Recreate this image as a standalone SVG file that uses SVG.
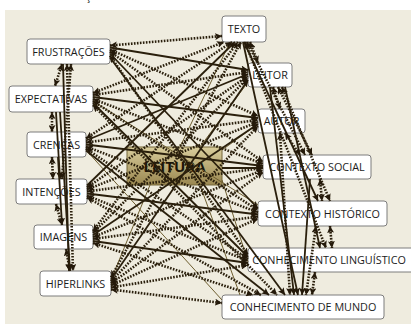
<svg xmlns="http://www.w3.org/2000/svg" width="411" height="324" viewBox="0 0 411 324">
<defs>
<marker id="a" markerUnits="userSpaceOnUse" markerWidth="8" markerHeight="7" refX="7" refY="3.5" orient="auto-start-reverse">
<path d="M0,0 L7,3.5 L0,7 L1.5,3.5 z" fill="#24190a" stroke="none"/>
</marker>
<linearGradient id="g" x1="0" y1="0" x2="0" y2="1">
<stop offset="0" stop-color="#d9cd9c"/>
<stop offset="1" stop-color="#9a8750"/>
</linearGradient>
<style>
.box{fill:#fff;stroke:#7d7d7d;stroke-width:1}
.lbl{font-family:"Open Sans","Noto Sans",sans-serif;font-size:10.8px;fill:#1c1c1c;text-anchor:middle}
.d{fill:none;stroke:#2a1f0c;stroke-width:2.6;stroke-dasharray:1.6 1.4;marker-start:url(#a);marker-end:url(#a)}
.s{fill:none;stroke:#2a1f0c;stroke-width:1.8;marker-end:url(#a)}
.t{fill:none;stroke:#6e5e30;stroke-width:1}
</style>
</defs>
<rect x="0" y="0" width="411" height="324" fill="#ffffff"/>
<rect x="5" y="10" width="406" height="314" fill="#efecdf"/>
<text x="88" y="0" class="lbl">ç</text>

<g id="nodes">
<g id="leitura"><rect x="127" y="147" width="95" height="38" fill="url(#g)" stroke="#75663a" stroke-width="1"/><text x="174.5" y="171.5" style="font-family:'Open Sans','Noto Sans',sans-serif;font-size:15px;font-weight:bold;fill:#1a1408;text-anchor:middle">LEITURA</text></g>
<g id="texto"><rect class="box" x="222" y="16" width="44" height="26" rx="3"/><text class="lbl" x="244" y="33">TEXTO</text></g>
<g id="leitor"><rect class="box" x="248" y="63" width="44" height="24" rx="3"/><text class="lbl" x="270" y="79">LEITOR</text></g>
<g id="autor"><rect class="box" x="258" y="109" width="47" height="24" rx="3"/><text class="lbl" x="281.5" y="125">AUTOR</text></g>
<g id="contexto-social"><rect class="box" x="263" y="155" width="108" height="24" rx="3"/><text class="lbl" x="317" y="171">CONTEXTO SOCIAL</text></g>
<g id="contexto-historico"><rect class="box" x="258" y="201" width="129" height="25" rx="3"/><text class="lbl" x="322.5" y="217.5">CONTEXTO HISTÓRICO</text></g>
<g id="conhecimento-linguistico"><rect class="box" x="248" y="248" width="168" height="24" rx="3"/><text class="lbl" x="329" y="264">CONHECIMENTO LINGUÍSTICO</text></g>
<g id="conhecimento-mundo"><rect class="box" x="222" y="295" width="162" height="24" rx="3"/><text class="lbl" x="303" y="311">CONHECIMENTO DE MUNDO</text></g>
<g id="frustracoes"><rect class="box" x="27" y="39" width="83" height="25" rx="3"/><text class="lbl" x="68.5" y="55.5">FRUSTRAÇÕES</text></g>
<g id="expectativas"><rect class="box" x="9" y="86" width="84" height="26" rx="3"/><text class="lbl" x="51" y="103">EXPECTATIVAS</text></g>
<g id="crencas"><rect class="box" x="27" y="132" width="59" height="25" rx="3"/><text class="lbl" x="56.5" y="148.5">CRENÇAS</text></g>
<g id="intencoes"><rect class="box" x="16" y="179" width="71" height="25" rx="3"/><text class="lbl" x="51.5" y="195.5">INTENÇÕES</text></g>
<g id="imagens"><rect class="box" x="34" y="225" width="59" height="24" rx="3"/><text class="lbl" x="63.5" y="241">IMAGENS</text></g>
<g id="hiperlinks"><rect class="box" x="40" y="271" width="71" height="25" rx="3"/><text class="lbl" x="75.5" y="287.5">HIPERLINKS</text></g>
</g>

<g id="connectors">
<path class="t" d="M222,180 L248,262 M200,185 L240,295 M222,150 L258,124 M200,147 L248,82 M150,185 L111,280 M180,147 L230,42 M93,101 L258,205 M86,150 L222,300"/>
<path class="d" d="M110,45.5 L222,36"/>
<path class="s" d="M110,47.5 L248,70"/>
<path class="d" d="M110,49.5 L258,116"/>
<path class="d" d="M110,51.5 L263,162"/>
<path class="s" d="M110,53.5 L258,208.5"/>
<path class="d" d="M110,55.5 L248,255"/>
<path class="s" d="M110,57.5 L285,295"/>
<path class="d" d="M93,93 L224,42"/>
<path class="d" d="M93,95 L248,72"/>
<path class="s" d="M93,97 L258,118"/>
<path class="d" d="M93,99 L263,164"/>
<path class="d" d="M93,101 L258,210.5"/>
<path class="s" d="M93,103 L248,257"/>
<path class="d" d="M93,105 L277,295"/>
<path class="d" d="M86,138.5 L232,42"/>
<path class="s" d="M86,140.5 L248,74"/>
<path class="d" d="M86,142.5 L258,120"/>
<path class="s" d="M86,144.5 L263,166"/>
<path class="d" d="M86,146.5 L258,212.5"/>
<path class="d" d="M86,148.5 L248,259"/>
<path class="s" d="M86,150.5 L269,295"/>
<path class="s" d="M87,185.5 L235,42"/>
<path class="d" d="M87,187.5 L248,76"/>
<path class="d" d="M87,189.5 L258,122"/>
<path class="d" d="M87,191.5 L263,168"/>
<path class="s" d="M87,193.5 L258,214.5"/>
<path class="d" d="M87,195.5 L248,261"/>
<path class="d" d="M87,197.5 L261,295"/>
<path class="d" d="M93,231 L238,42"/>
<path class="d" d="M93,233 L248,78"/>
<path class="s" d="M93,235 L258,124"/>
<path class="d" d="M93,237 L263,170"/>
<path class="d" d="M93,239 L258,216.5"/>
<path class="s" d="M93,241 L248,263"/>
<path class="d" d="M93,243 L253,295"/>
<path class="d" d="M111,277.5 L241,42"/>
<path class="s" d="M111,279.5 L248,80"/>
<path class="d" d="M111,281.5 L258,126"/>
<path class="d" d="M111,283.5 L263,172"/>
<path class="d" d="M111,285.5 L258,218.5"/>
<path class="d" d="M111,287.5 L248,265"/>
<path class="d" d="M111,289.5 L222,303"/>
<path class="s" d="M222,168 L263,168"/>
<path class="d" d="M67,64 L73,271"/>
<path class="s" d="M63,64 L69,271"/>
<path class="d" d="M62,64 L55,86"/>
<path class="d" d="M52,112 L52,132"/>
<path class="s" d="M56,112 L60,179"/>
<path class="d" d="M52,157 L53,179"/>
<path class="s" d="M58,157 L62,225"/>
<path class="d" d="M56,204 L62,225"/>
<path class="d" d="M66,249 L70,271"/>
<path class="s" d="M60,112 L70,271"/>
<path class="d" d="M71,64 L62,179"/>
<path class="d" d="M250,42 L258,63"/>
<path class="d" d="M247,42 L305,155"/>
<path class="s" d="M244,42 L318,201"/>
<path class="d" d="M245,42 L326,248"/>
<path class="s" d="M243,42 L298,295"/>
<path class="d" d="M273,87 L280,109"/>
<path class="d" d="M278,87 L312,155"/>
<path class="d" d="M282,87 L330,201"/>
<path class="s" d="M270,87 L294,295"/>
<path class="s" d="M285,87 L320,248"/>
<path class="d" d="M285,133 L300,155"/>
<path class="d" d="M280,133 L290,295"/>
<path class="d" d="M320,179 L322,201"/>
<path class="s" d="M310,179 L302,295"/>
<path class="d" d="M330,226 L332,248"/>
<path class="d" d="M316,226 L306,295"/>
<path class="d" d="M315,272 L312,295"/>
</g>
</svg>
